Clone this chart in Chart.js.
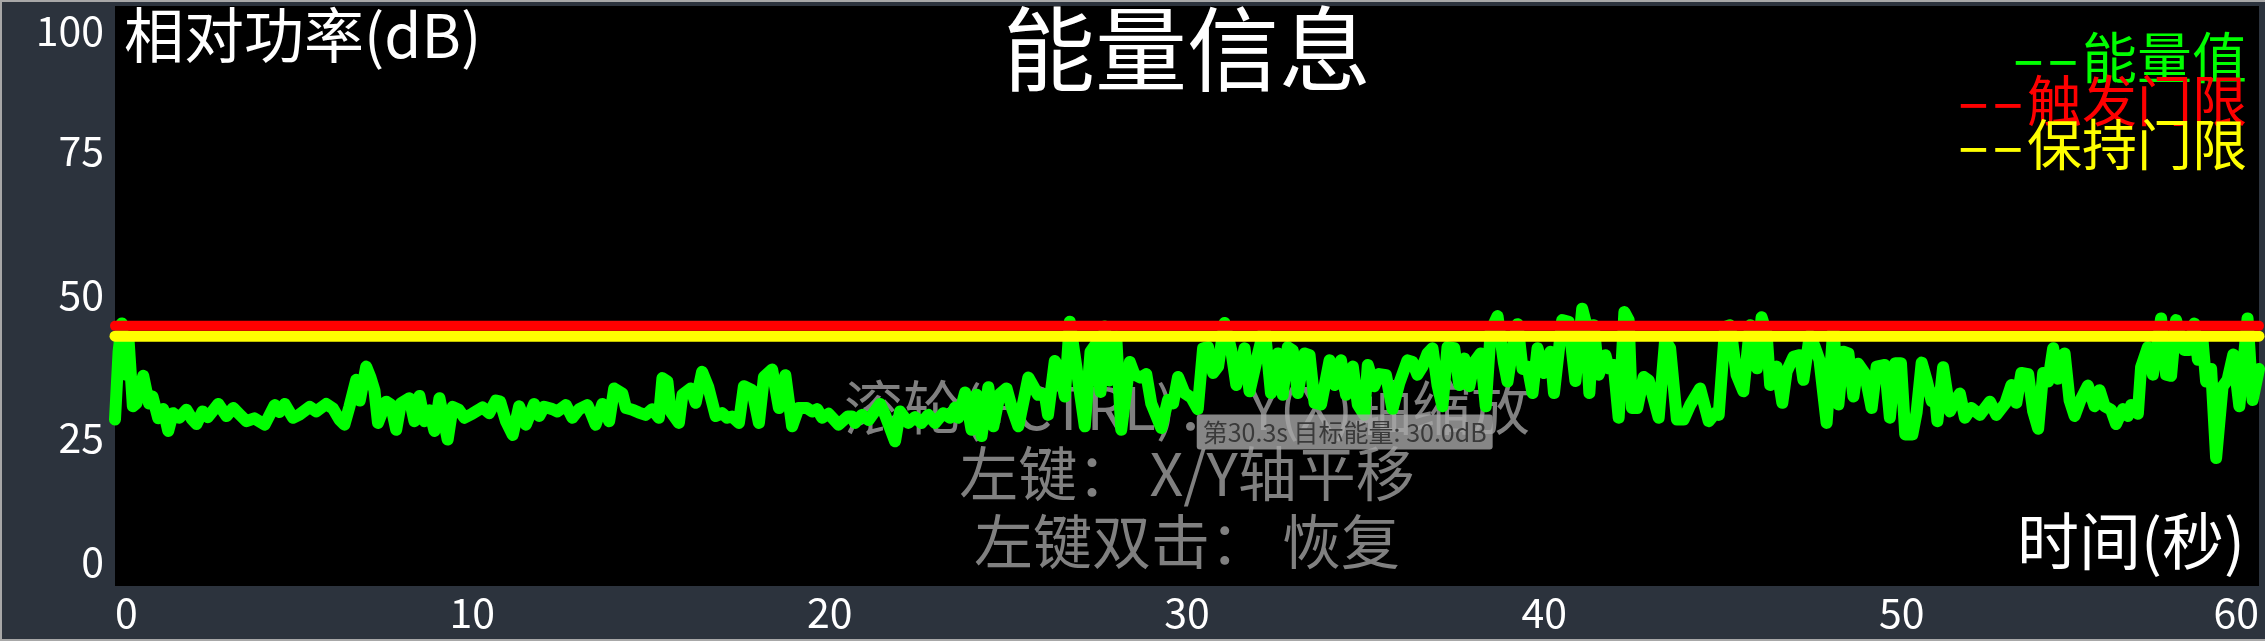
<!DOCTYPE html>
<html>
<head>
<meta charset="utf-8">
<script src="https://cdn.jsdelivr.net/npm/chart.js@4"></script>
<style>
  html, body { margin: 0; padding: 0; background: #2c333d; }
  #wrap { width: 2265px; height: 641px; }
</style>
</head>
<body>
<div id="wrap"><canvas id="energyChart" width="2265" height="641"></canvas></div>
<script>
// 时间(秒) / 能量值(dB)
const times = [
  0, 0.1, 0.19, 0.3, 0.38, 0.5, 0.6, 0.79, 0.95, 1.05, 1.21, 1.35, 1.49, 1.62, 1.8, 2.0, 2.15, 2.28, 2.45, 2.6,
  2.89, 3.12, 3.31, 3.5, 3.68, 3.9, 4.19, 4.47, 4.6, 4.75, 4.98, 5.15, 5.45, 5.63, 5.91, 6.1, 6.28, 6.42, 6.56, 6.75,
  6.85, 7.03, 7.15, 7.26, 7.36, 7.59, 7.72, 7.87, 8.0, 8.24, 8.38, 8.52, 8.66, 8.8, 8.94, 9.08, 9.31, 9.45, 9.62, 9.78,
  10.0, 10.29, 10.47, 10.66, 10.78, 10.94, 11.13, 11.31, 11.5, 11.73, 11.87, 12.01, 12.24, 12.38, 12.62, 12.8, 12.99, 13.22, 13.33, 13.45,
  13.64, 13.83, 13.97, 14.2, 14.3, 14.48, 14.66, 14.85, 15.03, 15.22, 15.32, 15.46, 15.55, 15.78, 15.88, 16.11, 16.25, 16.43, 16.6, 16.81,
  16.99, 17.13, 17.27, 17.46, 17.6, 17.83, 18.02, 18.16, 18.39, 18.58, 18.76, 18.95, 19.13, 19.36, 19.51, 19.65, 19.79, 19.97, 20.25, 20.5,
  20.62, 20.71, 20.9, 21.09, 21.41, 21.55, 21.83, 21.97, 22.2, 22.39, 22.57, 22.76, 22.95, 23.18, 23.37, 23.51, 23.6, 23.79, 23.97, 24.11,
  24.25, 24.44, 24.58, 24.76, 24.95, 25.1, 25.28, 25.56, 25.83, 26.02, 26.11, 26.3, 26.44, 26.58, 26.72, 26.9, 27.14, 27.3, 27.46, 27.58,
  27.7, 27.82, 28.02, 28.16, 28.4, 28.53, 28.7, 28.86, 29.0, 29.28, 29.47, 29.61, 29.75, 29.93, 30.12, 30.3, 30.45, 30.59, 30.73, 30.87,
  31.05, 31.24, 31.38, 31.61, 31.75, 31.98, 32.17, 32.35, 32.54, 32.68, 32.82, 32.96, 33.1, 33.29, 33.43, 33.57, 33.75, 33.99, 34.13, 34.31,
  34.45, 34.64, 34.78, 34.96, 35.06, 35.24, 35.38, 35.57, 35.75, 35.94, 36.17, 36.31, 36.45, 36.59, 36.73, 36.87, 37.01, 37.15, 37.29, 37.48,
  37.62, 37.76, 37.9, 38.04, 38.22, 38.36, 38.5, 38.69, 38.87, 38.97, 39.11, 39.25, 39.39, 39.53, 39.67, 39.81, 39.99, 40.17, 40.27, 40.5,
  40.68, 40.87, 41.06, 41.15, 41.26, 41.38, 41.52, 41.71, 41.8, 41.94, 42.08, 42.24, 42.36, 42.45, 42.6, 42.78, 42.92, 43.2, 43.38, 43.52,
  43.71, 43.9, 44.08, 44.36, 44.6, 44.78, 44.88, 45.06, 45.2, 45.38, 45.57, 45.76, 45.95, 46.08, 46.22, 46.32, 46.5, 46.66, 46.78, 46.97,
  47.15, 47.25, 47.43, 47.57, 47.7, 47.9, 48.09, 48.23, 48.37, 48.51, 48.65, 48.78, 48.97, 49.16, 49.3, 49.53, 49.67, 49.82, 49.98, 50.1,
  50.3, 50.42, 50.56, 50.7, 50.84, 50.93, 51.0, 51.16, 51.35, 51.5, 51.63, 51.77, 51.95, 52.19, 52.47, 52.65, 52.9, 53.07, 53.21, 53.35,
  53.54, 53.68, 53.82, 53.96, 54.1, 54.24, 54.37, 54.56, 54.7, 54.84, 55.0, 55.21, 55.4, 55.54, 55.68, 55.86, 56.0, 56.19, 56.33, 56.42,
  56.61, 56.7, 56.89, 57.03, 57.26, 57.4, 57.54, 57.68, 57.82, 57.91, 58.05, 58.19, 58.29, 58.42, 58.52, 58.66, 58.8, 58.98, 59.12, 59.28,
  59.45, 59.68, 59.82, 60.0
];
const energy = [
  28.2, 40, 44.9, 36, 42, 30.5, 31, 35.8, 31, 32.2, 28.4, 30, 26.2, 29.3, 28.5, 29.9, 28.3, 27.4, 29.6, 28.6,
  30.9, 28.8, 30.2, 29.0, 27.9, 28.4, 27.3, 30.7, 29.5, 30.9, 28.5, 29.0, 30.4, 29.6, 30.9, 30.1, 28.2, 27.3, 30.4, 35.1,
  31.5, 37.4, 35.5, 33.3, 27.6, 31.3, 30.8, 26.4, 31.0, 31.9, 27.9, 32.3, 27.9, 29.8, 26.2, 31.9, 24.7, 30.4, 29.9, 28.5,
  29.2, 30.3, 29.3, 31.5, 31.3, 27.9, 25.5, 30.5, 27.3, 30.9, 28.8, 30.4, 30.0, 29.6, 30.7, 28.5, 30.0, 30.7, 29.2, 27.3,
  30.9, 27.9, 33.6, 32.7, 30.2, 29.9, 29.4, 29.0, 30.0, 28.5, 35.4, 34.8, 29.6, 27.6, 32.5, 33.6, 31.1, 36.5, 33.9, 28.8,
  29.3, 28.5, 28.7, 27.6, 34.0, 33.3, 27.6, 35.6, 36.9, 30.2, 35.9, 27.0, 30.2, 30.2, 29.6, 30.0, 28.5, 29.2, 27.3, 28.7,
  28.7, 27.6, 29.0, 28.1, 30.9, 29.0, 24.4, 29.6, 27.6, 28.6, 27.6, 29.0, 27.6, 29.3, 28.5, 30.3, 28.5, 32.9, 26.4, 32.5,
  25.3, 33.8, 27.0, 32.6, 33.6, 30.2, 27.0, 35.5, 32.5, 32.6, 29.0, 38.4, 36.8, 32.2, 45.2, 37.5, 27.0, 40.0, 41.4, 33.0,
  44.4, 35.0, 42.6, 26.4, 38.2, 36.0, 35.5, 36.1, 31.0, 26.7, 31.6, 31.0, 35.6, 32.8, 32.0, 30.0, 40.6, 40.8, 36.3, 37.4,
  45.0, 40.2, 34.2, 40.6, 33.1, 39.4, 44.3, 32.8, 39.7, 32.5, 40.8, 40.2, 32.8, 39.7, 39.4, 31.1, 30.8, 38.5, 34.2, 38.5,
  32.5, 37.4, 30.8, 29.0, 37.7, 34.0, 36.1, 35.9, 30.0, 34.5, 38.5, 38.2, 36.0, 37.4, 39.7, 40.6, 34.2, 30.5, 40.8, 40.6,
  34.2, 38.8, 34.0, 38.2, 39.7, 30.5, 43.7, 46.2, 38.0, 34.8, 40.6, 44.8, 37.0, 37.4, 32.8, 40.6, 36.3, 40.0, 32.8, 45.5,
  45.2, 34.9, 47.5, 45.3, 32.8, 44.6, 36.0, 39.4, 37.1, 37.7, 28.5, 46.9, 45.5, 30.2, 30.2, 35.6, 35.0, 28.5, 42.0, 40.6,
  28.2, 28.2, 30.7, 33.6, 27.9, 29.3, 29.0, 44.3, 44.6, 36.0, 33.1, 44.6, 37.1, 46.0, 43.2, 34.2, 37.4, 31.1, 36.5, 39.1,
  39.4, 35.1, 42.9, 40.8, 38.5, 27.6, 44.3, 30.8, 40.0, 39.7, 32.2, 37.9, 36.2, 30.2, 37.4, 37.7, 28.5, 38.0, 38.0, 25.6,
  25.6, 29.5, 38.1, 35.0, 31.4, 32.7, 27.9, 37.3, 29.6, 31.5, 32.7, 28.5, 30.2, 29.0, 31.3, 29.0, 31.0, 34.2, 31.1, 36.3,
  36.1, 29.6, 26.6, 36.3, 34.8, 40.6, 35.3, 39.7, 31.5, 28.8, 31.5, 34.1, 30.5, 33.3, 30.5, 29.9, 27.4, 30.0, 28.8, 30.7,
  29.2, 37.3, 40.8, 36.0, 45.8, 36.0, 35.8, 45.5, 42.0, 40.3, 40.3, 44.9, 38.6, 42.0, 34.8, 37.0, 21.5, 33.9, 35.1, 39.5,
  30.5, 45.8, 31.6, 37.0
];
const triggerLevel = 44.5;
const holdLevel = 42.7;
const xTicks = [0, 10, 20, 30, 40, 50, 60];
const yTicks = [0, 25, 50, 75, 100];
const seriesNames = ['--能量值', '--触发门限', '--保持门限'];
const seriesColors = ['#00ff00', '#ff0000', '#ffff00'];
const helpLines = ['滚轮(+CTRL)： Y(X)轴缩放', '左键： X/Y轴平移', '左键双击： 恢复'];
const tipTime = 30.3;

const FONT = '"Noto Sans CJK SC", "Noto Sans", sans-serif';
Chart.defaults.font.family = FONT;

function text(ctx, str, x, y, size, color, align) {
  ctx.font = size + 'px ' + FONT;
  ctx.fillStyle = color;
  ctx.textAlign = align;
  ctx.textBaseline = 'middle';
  ctx.fillText(str, x, y);
}

// legend entry: the "--" part is stretched, like the wide dashes of the original font
function legendText(ctx, str, right, y, size, color) {
  const dash = str.slice(0, 2), name = str.slice(2);
  ctx.font = size + 'px ' + FONT;
  ctx.fillStyle = color;
  ctx.textBaseline = 'middle';
  ctx.textAlign = 'right';
  ctx.fillText(name, right, y);
  const nameW = ctx.measureText(name).width;
  ctx.save();
  ctx.translate(right - nameW - 2, y);
  ctx.scale(1.8, 1);
  ctx.fillText(dash, 0, 0);
  ctx.restore();
}

const backdrop = {
  id: 'backdrop',
  beforeDraw(chart) {
    const {ctx, chartArea: a, width, height} = chart;
    ctx.save();
    ctx.fillStyle = '#2c333d';
    ctx.fillRect(0, 0, width, height);
    ctx.fillStyle = '#000000';
    ctx.fillRect(a.left, a.top, a.right - a.left, a.bottom - a.top);
    ctx.strokeStyle = '#a8a8a8';
    ctx.lineWidth = 2;
    ctx.beginPath();
    ctx.moveTo(width, 1); ctx.lineTo(1, 1); ctx.lineTo(1, height - 1); ctx.lineTo(width, height - 1);
    ctx.stroke();
    ctx.restore();
    // keep first / last y labels inside the plot height
    chart.scales.y.getLabelItems().forEach(it => {
      const t = it.options.translation;
      t[1] = Math.min(Math.max(t[1], a.top + 24), a.bottom - 25);
    });
  },
  beforeDatasetsDraw(chart) {
    const {ctx, chartArea: a} = chart;
    const cx = (a.left + a.right) / 2;
    ctx.save();
    [408, 474, 542].forEach((y, i) => text(ctx, helpLines[i], cx, y, 59, '#808080', 'center'));
    ctx.restore();
  },
  afterDatasetsDraw(chart) {
    const {ctx, chartArea: a} = chart;
    ctx.save();
    text(ctx, '能量信息', (a.left + a.right) / 2, 49, 92, '#ffffff', 'center');
    text(ctx, '相对功率(dB)', a.left + 9, 35, 60, '#ffffff', 'left');
    text(ctx, '时间(秒)', a.right - 14, 541, 62, '#ffffff', 'right');
    [57, 100, 144].forEach((y, i) => legendText(ctx, seriesNames[i], a.right - 12, y, 55, seriesColors[i]));
    ctx.restore();
  }
};

const energyPoints = times.map((t, i) => ({x: t, y: energy[i]}));
const lineStyle = {pointRadius: 0, tension: 0, borderJoinStyle: 'round', borderCapStyle: 'round', clip: 8};

const chart = new Chart(document.getElementById('energyChart'), {
  type: 'line',
  data: {
    datasets: [
      {label: seriesNames[1], data: [{x: 0, y: triggerLevel}, {x: 60, y: triggerLevel}], borderColor: seriesColors[1], borderWidth: 10, ...lineStyle},
      {label: seriesNames[2], data: [{x: 0, y: holdLevel}, {x: 60, y: holdLevel}], borderColor: seriesColors[2], borderWidth: 11, ...lineStyle},
      {label: seriesNames[0], data: energyPoints, borderColor: seriesColors[0], borderWidth: 12, ...lineStyle}
    ]
  },
  options: {
    responsive: false,
    animation: false,
    events: [],
    layout: {padding: {left: 2, top: 4, right: 2, bottom: 0}},
    scales: {
      x: {
        type: 'linear', min: 0, max: 60,
        afterFit: s => { s.height = 55; s.paddingLeft = 0; s.paddingRight = 0; },
        afterBuildTicks: s => { s.ticks = xTicks.map(v => ({value: v})); },
        grid: {display: false}, border: {display: false},
        ticks: {color: '#ffffff', font: {size: 41, lineHeight: 0.9}, align: 'inner', padding: 0, maxRotation: 0}
      },
      y: {
        type: 'linear', min: -0.8, max: 100.2,
        afterFit: s => { s.width = 113; s.paddingTop = 0; s.paddingBottom = 0; },
        afterBuildTicks: s => { s.ticks = yTicks.map(v => ({value: v})); },
        grid: {display: false}, border: {display: false},
        ticks: {color: '#ffffff', font: {size: 41}, padding: 3}
      }
    },
    plugins: {
      legend: {display: false},
      title: {display: false},
      tooltip: {
        enabled: true,
        animation: false,
        displayColors: false,
        backgroundColor: 'rgba(168,168,168,0.8)',
        bodyColor: '#3a3a3a',
        bodyFont: {size: 25, lineHeight: 1},
        padding: {x: 6, y: 5},
        caretSize: 0,
        caretPadding: 6,
        cornerRadius: 3,
        xAlign: 'left',
        yAlign: 'top',
        callbacks: {
          title: () => '',
          label: c => '第' + c.parsed.x + 's 目标能量: ' + c.parsed.y.toFixed(1) + 'dB'
        }
      }
    }
  },
  plugins: [backdrop]
});

chart.tooltip.setActiveElements([{datasetIndex: 2, index: times.indexOf(tipTime)}], {x: 0, y: 0});
chart.update();
</script>
</body>
</html>
